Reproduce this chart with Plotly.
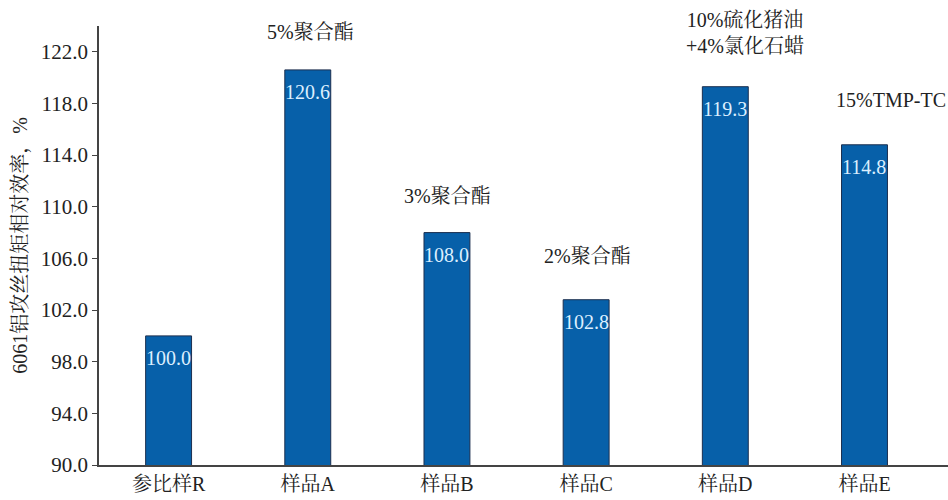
import plotly.graph_objects as go

# Samples on the x axis and their relative tapping-torque efficiency (%)
categories = ["参比样R", "样品A", "样品B", "样品C", "样品D", "样品E"]
efficiency = [100.0, 120.6, 108.0, 102.8, 119.3, 114.8]
additives = ["", "5%聚合酯", "3%聚合酯", "2%聚合酯", "10%硫化猪油<br>+4%氯化石蜡", "15%TMP-TC"]
y_ticks = [90.0, 94.0, 98.0, 102.0, 106.0, 110.0, 114.0, 118.0, 122.0]

FONT = "Liberation Serif, 'Noto Serif CJK SC', 'Noto Sans CJK SC', serif"
BAR_BLUE = "#0760a9"
EDGE = "#1c2f4f"
INK = "#222222"

fig = go.Figure(
    go.Bar(
        x=categories,
        y=efficiency,
        width=0.33,
        marker=dict(color=BAR_BLUE, line=dict(color=EDGE, width=1)),
        hoverinfo="x+y",
    )
)

# value labels inside the top of each bar
for cat, val in zip(categories, efficiency):
    fig.add_annotation(
        x=cat, y=val, text=f"{val:.1f}", showarrow=False,
        yanchor="middle", yshift=-22,
        font=dict(family=FONT, size=20, color="#dcefff"),
    )

# additive captions above the bars (offsets in pixels)
caption_style = {
    1: dict(xshift=3, yshift=38, xanchor="center"),
    2: dict(xshift=1, yshift=37, xanchor="center"),
    3: dict(xshift=1, yshift=44, xanchor="center"),
    4: dict(xshift=20, yshift=54, xanchor="center"),
    5: dict(xshift=-30, yshift=45, xanchor="left"),
}
for i, (cat, val, text) in enumerate(zip(categories, efficiency, additives)):
    if not text:
        continue
    st = caption_style[i]
    fig.add_annotation(
        x=cat, y=val, text=text, showarrow=False,
        xanchor=st["xanchor"], yanchor="middle",
        xshift=st["xshift"], yshift=st["yshift"],
        align="center",
        font=dict(family=FONT, size=20, color=INK),
    )

fig.update_layout(
    width=948,
    height=500,
    margin=dict(l=99, r=0, t=26, b=35),
    paper_bgcolor="white",
    plot_bgcolor="white",
    showlegend=False,
    font=dict(family=FONT, size=20, color=INK),
    xaxis=dict(
        range=[-0.5, 5.6],
        showline=True, linecolor="#444444", linewidth=1.5,
        ticks="", showgrid=False, zeroline=False,
        tickfont=dict(family=FONT, size=20, color=INK),
    ),
    yaxis=dict(
        range=[90, 124],
        tickvals=y_ticks,
        tickformat=".1f",
        showline=True, linecolor="#444444", linewidth=1.5,
        ticks="outside", ticklen=5, tickcolor="#444444",
        showgrid=False, zeroline=False,
        tickfont=dict(family=FONT, size=21, color=INK),
        title=dict(
            text="6061铝攻丝扭矩相对效率，%",
            font=dict(family=FONT, size=20, color=INK),
            standoff=8,
        ),
    ),
)

fig.write_html("out.html")
